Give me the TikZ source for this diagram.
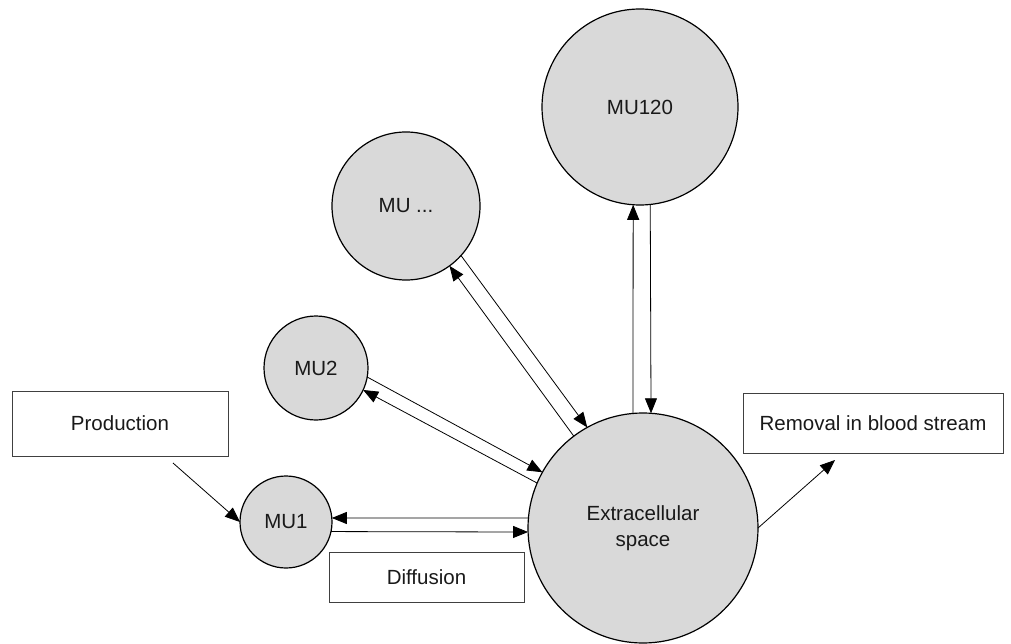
\documentclass[tikz,border=0pt]{standalone}
\usepackage{fontspec}
\setmainfont{Liberation Sans}
\usepackage{tikz}
\usetikzlibrary{positioning,calc,arrows.meta}

\begin{document}
\begin{tikzpicture}[x=1pt, y=-1pt,
    every node/.style={font=\fontsize{20.5}{26}\selectfont},
    mu/.style={draw=black, line width=1.2pt, circle, fill=black!15,
        inner sep=0pt, outer sep=0pt, text=black!90},
    box/.style={draw=black!75, line width=0.9pt, rectangle,
        inner sep=0pt, outer sep=0pt, text=black!90},
    >={Triangle[length=15pt, width=12pt]},
    line width=0.8pt]

        \useasboundingbox (0,0) rectangle (1011,644);

        %extracellular space
        \node[mu, minimum size=230pt, align=center] (ext) at (643,528) {Extracellular\\space};

        %motor units
        \node[mu, minimum size=196pt] (mu120) at (640,107) {MU120};
        \node[mu, minimum size=148pt] (mudots) at (406,206) {MU ...};
        \node[mu, minimum size=104pt] (mu2) at (316,368) {MU2};
        \node[mu, minimum size=92pt] (mu1) at (286,522) {MU1};

        %boxes
        \node[box, minimum width=216pt, minimum height=65pt] (prod) at (120,423.5) {Production};
        \node[box, minimum width=260pt, minimum height=60pt] (rem) at (873,423) {Removal in blood stream};
        \node[box, minimum width=195pt, minimum height=50pt] (diff) at (426.5,577) {Diffusion};

        %free ends below the boxes
        \coordinate (pout) at ($(prod.south)+(53,7)$);
        \coordinate (rin) at ($(rem.south)+(-38,7)$);

        \path[->]
            %production and removal
            (pout) edge (mu1.west)
            (ext.east) edge (rin)

            %MU1
            (ext.175) edge (mu1.5)
            (mu1.-12.5) edge (ext.182)

            %MU2
            (mu2.-10) edge (ext.151)
            (ext.157) edge (mu2.-25)

            %MU ...
            (mudots.-42) edge (ext.119)
            (ext.127) edge (mudots.-54)

            %MU120
            (ext.95) edge (mu120.-94)
            (mu120.-84) edge (ext.86.5)
            ;

\end{tikzpicture}
\end{document}
